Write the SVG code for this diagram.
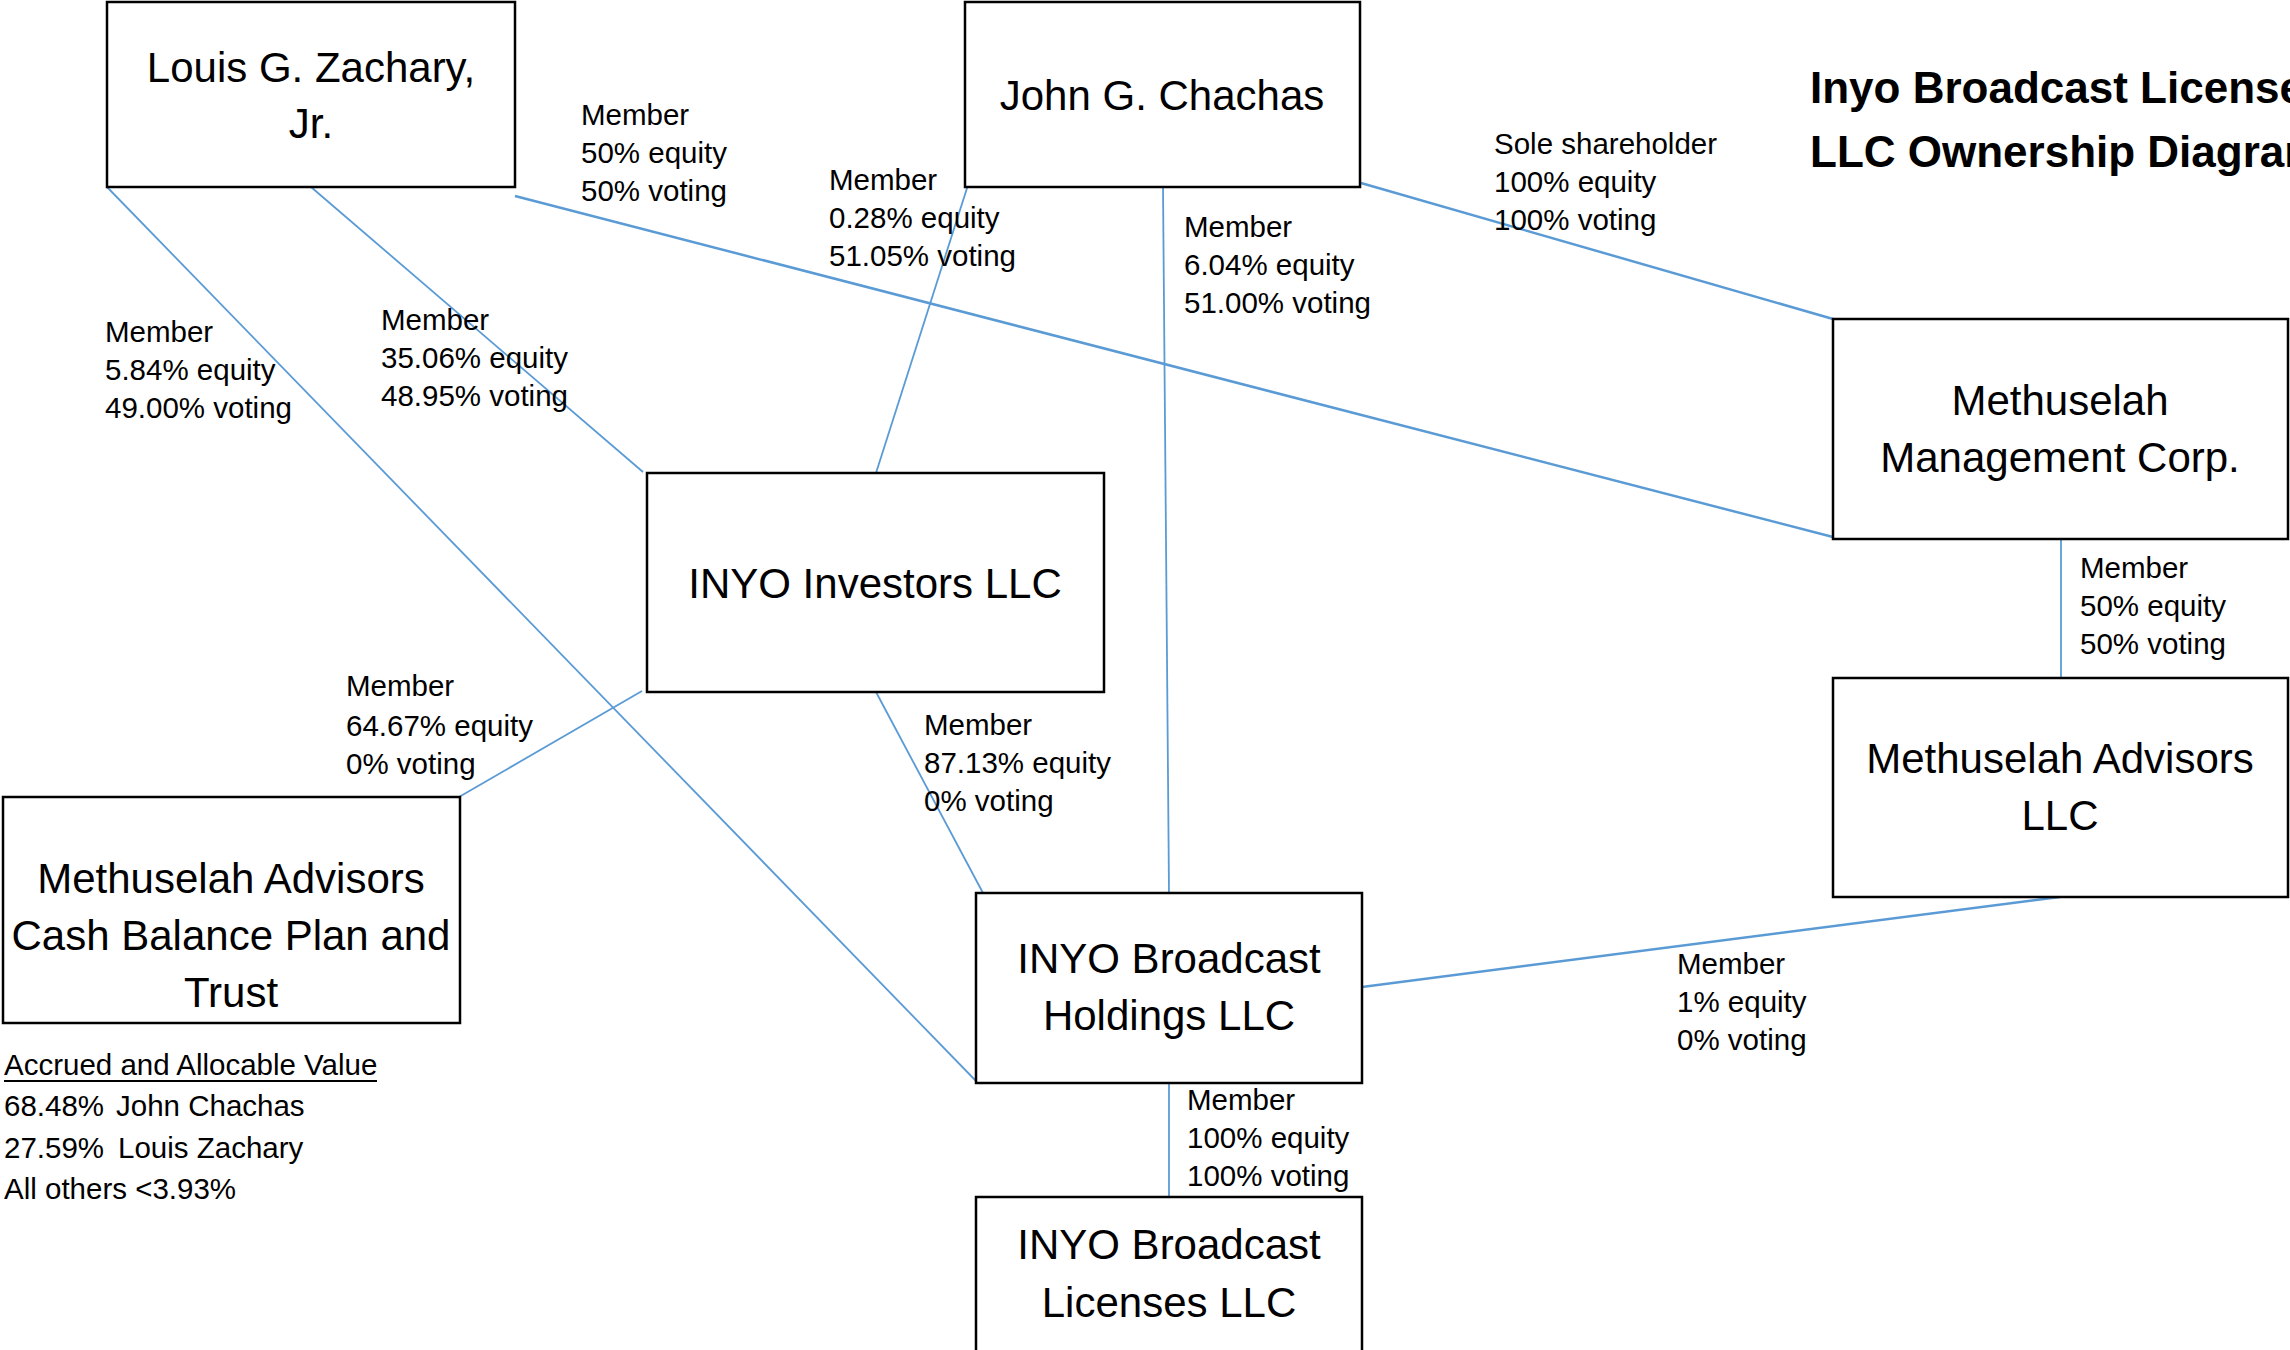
<svg xmlns="http://www.w3.org/2000/svg" width="2290" height="1350" viewBox="0 0 2290 1350">
<style>
.box{fill:#fff;stroke:#000;stroke-width:2.5}
.nt{font-family:"Liberation Sans",Arial,sans-serif;font-size:42px;fill:#000;text-anchor:middle}
.lb{font-family:"Liberation Sans",Arial,sans-serif;font-size:29.5px;fill:#000}
.ttl{font-family:"Liberation Sans",Arial,sans-serif;font-size:44px;font-weight:bold;fill:#000}
.c{stroke:#5B9BD5;stroke-width:1.8;fill:none}
.ck{stroke:#5B9BD5;stroke-width:2.5;fill:none}
</style>
<rect width="2290" height="1350" fill="#fff"/>
<g id="connectors">
<line class="c" x1="107" y1="187" x2="976" y2="1081"/>
<line class="c" x1="311" y1="187" x2="643" y2="472"/>
<line class="ck" x1="515" y1="196" x2="1833" y2="537"/>
<line class="c" x1="968" y1="185" x2="876" y2="473"/>
<line class="c" x1="1163" y1="187" x2="1169" y2="893"/>
<line class="ck" x1="1361" y1="183" x2="1833" y2="319"/>
<line class="c" x1="2061" y1="539" x2="2061" y2="678"/>
<line class="ck" x1="2060" y1="897" x2="1362" y2="987"/>
<line class="c" x1="876" y1="692" x2="983" y2="893"/>
<line class="c" x1="459" y1="797" x2="642" y2="691"/>
<line class="c" x1="1169" y1="1083" x2="1169" y2="1197"/>
</g>
<g id="louis">
<rect class="box" x="107" y="2" width="408" height="185"/>
<text class="nt" x="311" y="82">Louis G. Zachary,</text>
<text class="nt" x="311" y="138">Jr.</text>
</g>
<g id="john">
<rect class="box" x="965" y="2" width="395" height="185"/>
<text class="nt" x="1162" y="110">John G. Chachas</text>
</g>
<g id="inyo-investors">
<rect class="box" x="647" y="473" width="457" height="219"/>
<text class="nt" x="875" y="598">INYO Investors LLC</text>
</g>
<g id="methuselah-mgmt">
<rect class="box" x="1833" y="319" width="455" height="220"/>
<text class="nt" x="2060" y="415">Methuselah</text>
<text class="nt" x="2060" y="472">Management Corp.</text>
</g>
<g id="methuselah-advisors">
<rect class="box" x="1833" y="678" width="455" height="219"/>
<text class="nt" x="2060" y="773">Methuselah Advisors</text>
<text class="nt" x="2060" y="830">LLC</text>
</g>
<g id="cash-balance">
<rect class="box" x="3" y="797" width="457" height="226"/>
<text class="nt" x="231" y="893">Methuselah Advisors</text>
<text class="nt" x="231" y="950">Cash Balance Plan and</text>
<text class="nt" x="231" y="1007">Trust</text>
</g>
<g id="holdings">
<rect class="box" x="976" y="893" width="386" height="190"/>
<text class="nt" x="1169" y="973">INYO Broadcast</text>
<text class="nt" x="1169" y="1030">Holdings LLC</text>
</g>
<g id="licenses">
<rect class="box" x="976" y="1197" width="386" height="190"/>
<text class="nt" x="1169" y="1259">INYO Broadcast</text>
<text class="nt" x="1169" y="1317">Licenses LLC</text>
</g>
<g id="title">
<text class="ttl" x="1810" y="103">Inyo Broadcast Licenses</text>
<text class="ttl" x="1810" y="167">LLC Ownership Diagram</text>
</g>
<g id="labels">
<text class="lb"><tspan x="581" y="125">Member</tspan><tspan x="581" y="163">50% equity</tspan><tspan x="581" y="201">50% voting</tspan></text>
<text class="lb"><tspan x="829" y="190">Member</tspan><tspan x="829" y="228">0.28% equity</tspan><tspan x="829" y="266">51.05% voting</tspan></text>
<text class="lb"><tspan x="105" y="342">Member</tspan><tspan x="105" y="380">5.84% equity</tspan><tspan x="105" y="418">49.00% voting</tspan></text>
<text class="lb"><tspan x="381" y="330">Member</tspan><tspan x="381" y="368">35.06% equity</tspan><tspan x="381" y="406">48.95% voting</tspan></text>
<text class="lb"><tspan x="1184" y="237">Member</tspan><tspan x="1184" y="275">6.04% equity</tspan><tspan x="1184" y="313">51.00% voting</tspan></text>
<text class="lb"><tspan x="1494" y="154">Sole shareholder</tspan><tspan x="1494" y="192">100% equity</tspan><tspan x="1494" y="230">100% voting</tspan></text>
<text class="lb"><tspan x="2080" y="578">Member</tspan><tspan x="2080" y="616">50% equity</tspan><tspan x="2080" y="654">50% voting</tspan></text>
<text class="lb"><tspan x="346" y="696">Member</tspan><tspan x="346" y="736">64.67% equity</tspan><tspan x="346" y="774">0% voting</tspan></text>
<text class="lb"><tspan x="924" y="735">Member</tspan><tspan x="924" y="773">87.13% equity</tspan><tspan x="924" y="811">0% voting</tspan></text>
<text class="lb"><tspan x="1677" y="974">Member</tspan><tspan x="1677" y="1012">1% equity</tspan><tspan x="1677" y="1050">0% voting</tspan></text>
<text class="lb"><tspan x="1187" y="1110">Member</tspan><tspan x="1187" y="1148">100% equity</tspan><tspan x="1187" y="1186">100% voting</tspan></text>
</g>
<g id="accrued">
<text class="lb" x="4" y="1075">Accrued and Allocable Value</text>
<line x1="4" y1="1081" x2="377" y2="1081" stroke="#000" stroke-width="1.8"/>
<text class="lb"><tspan x="4" y="1116">68.48%</tspan><tspan x="116" y="1116">John Chachas</tspan></text>
<text class="lb"><tspan x="4" y="1158">27.59%</tspan><tspan x="118" y="1158">Louis Zachary</tspan></text>
<text class="lb" x="4" y="1199">All others &lt;3.93%</text>
</g>
</svg>
